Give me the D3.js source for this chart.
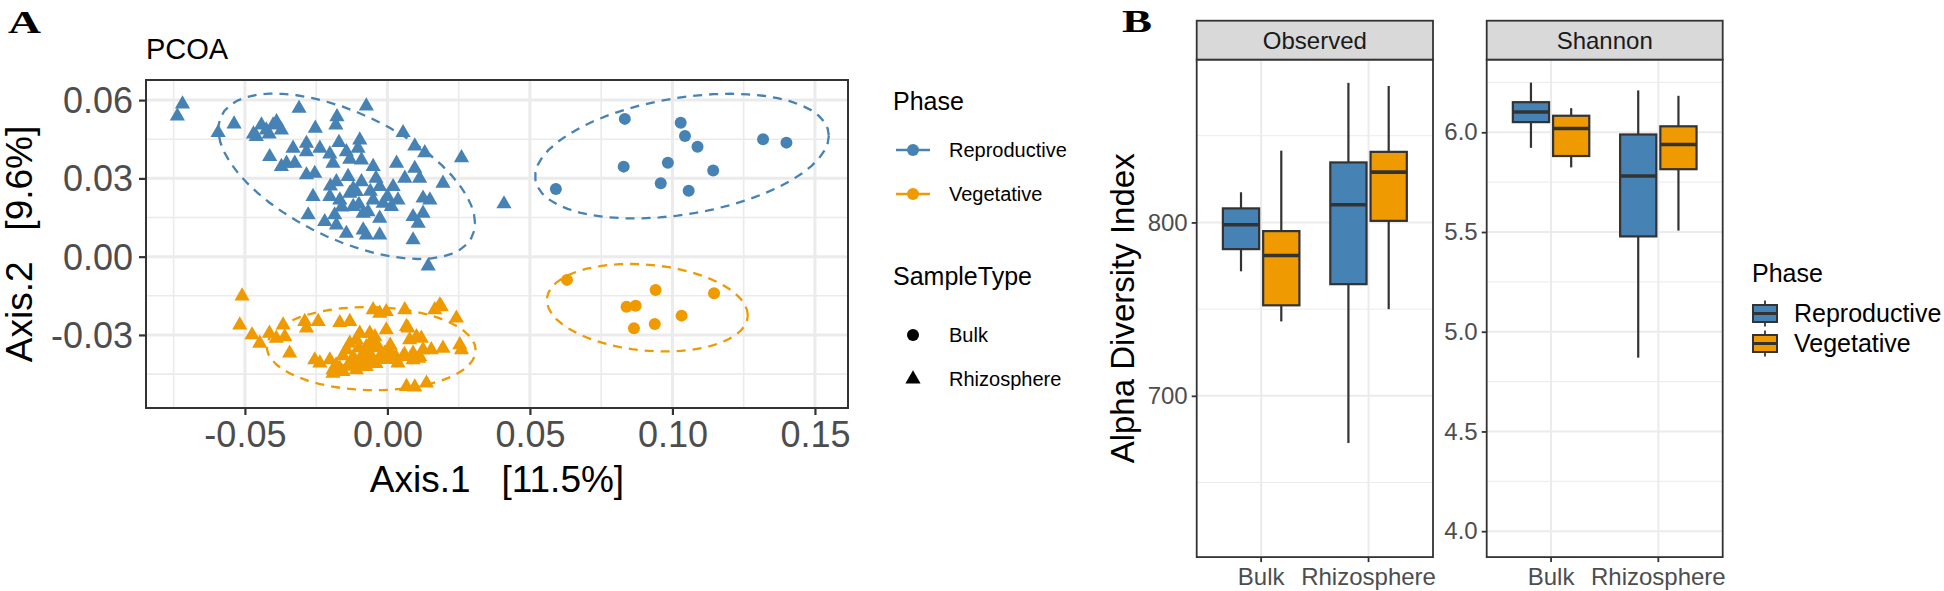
<!DOCTYPE html>
<html><head><meta charset="utf-8">
<script src="https://cdn.jsdelivr.net/npm/d3@7"></script>
<style>
body{margin:0;background:#fff}
svg{display:block}
text{font-family:"Liberation Sans",Arial,sans-serif}
</style>
</head><body>
<svg id="c" width="1944" height="591"></svg>
<script>
// ---------------- DATA ----------------
const phases = ["Reproductive", "Vegetative"];
const sampleTypes = ["Bulk", "Rhizosphere"];
const phaseColors = ["#4682B4", "#EE9A00"];

const pcoaXTicks = [-0.05, 0.00, 0.05, 0.10, 0.15];
const pcoaYTicks = [0.06, 0.03, 0.00, -0.03];

// Reproductive, Rhizosphere (triangles)
const repRhizo = [
 [-0.0719,0.0585],[-0.0737,0.0539],[-0.0594,0.0475],[-0.0538,0.0508],[-0.0310,0.0568],[-0.0074,0.0577],[-0.0177,0.0536],[-0.0181,0.0504],
 [-0.0442,0.0504],[-0.0460,0.0460],[-0.0425,0.0485],[-0.0389,0.0517],[-0.0372,0.0485],[-0.0401,0.0504],[-0.0470,0.0470],[-0.0415,0.0470],
 [-0.0253,0.0492],[0.0055,0.0475],[0.0096,0.0424],[0.0131,0.0398],[0.0260,0.0379],[0.0195,0.0281],
 [-0.0413,0.0383],[-0.0331,0.0415],[-0.0354,0.0358],[-0.0372,0.0345],[-0.0325,0.0358],
 [-0.0284,0.0434],[-0.0284,0.0402],[-0.0237,0.0415],[-0.0202,0.0393],[-0.0191,0.0358],
 [-0.0170,0.0437],[-0.0144,0.0402],[-0.0097,0.0447],[-0.0103,0.0415],[-0.0132,0.0373],[-0.0091,0.0370],[-0.0050,0.0345],
 [-0.0284,0.0313],[-0.0255,0.0319],[-0.0179,0.0287],[-0.0138,0.0307],[-0.0091,0.0287],[-0.0027,0.0268],[0.0020,0.0268],[0.0032,0.0358],[0.0096,0.0338],[0.0061,0.0300],[0.0113,0.0300],
 [-0.0261,0.0230],[-0.0202,0.0230],[-0.0167,0.0217],[-0.0132,0.0243],[-0.0109,0.0249],[-0.0050,0.0217],[-0.0015,0.0204],[0.0037,0.0217],[0.0125,0.0224],[0.0149,0.0217],
 [-0.0278,0.0160],[-0.0220,0.0134],[-0.0185,0.0160],[-0.0179,0.0121],[-0.0120,0.0192],[-0.0085,0.0166],[-0.0068,0.0172],[-0.0027,0.0147],[0.0014,0.0192],[0.0090,0.0153],[0.0108,0.0128],[0.0125,0.0166],
 [-0.0144,0.0089],[-0.0085,0.0102],[-0.0074,0.0083],[-0.0027,0.0083],[0.0090,0.0064],
 [-0.0120,0.0260],[-0.0060,0.0250],[-0.0100,0.0200],[-0.0160,0.0190],[0.0000,0.0230],[-0.0040,0.0300],[-0.0200,0.0270],
 [0.0143,-0.0036],[0.0409,0.0202]
];
// Vegetative, Rhizosphere (triangles)
const vegRhizo = [
 [-0.0510,-0.0151],[-0.0518,-0.0262],[-0.0475,-0.0300],[-0.0448,-0.0332],[-0.0414,-0.0294],[-0.0390,-0.0313],[-0.0366,-0.0262],[-0.0360,-0.0307],[-0.0343,-0.0370],
 [-0.0290,-0.0249],[-0.0284,-0.0274],[-0.0243,-0.0249],[-0.0167,-0.0253],[-0.0132,-0.0249],
 [-0.0237,-0.0408],[-0.0202,-0.0396],[-0.0191,-0.0434],[-0.0167,-0.0428],[-0.0144,-0.0357],[-0.0120,-0.0408],[-0.0109,-0.0319],[-0.0085,-0.0370],[-0.0062,-0.0294],
 [-0.0050,-0.0204],[-0.0027,-0.0217],[-0.0004,-0.0211],[-0.0039,-0.0345],[-0.0015,-0.0383],[-0.0004,-0.0281],[0.0020,-0.0383],
 [0.0061,-0.0204],[0.0067,-0.0268],[0.0078,-0.0319],[0.0102,-0.0307],[0.0113,-0.0383],[0.0125,-0.0357],[0.0154,-0.0357],
 [0.0166,-0.0204],[0.0189,-0.0192],[0.0195,-0.0351],[0.0242,-0.0236],[0.0254,-0.0338],[0.0260,-0.0357],
 [0.0067,-0.0498],[0.0096,-0.0500],[0.0137,-0.0485],
 [-0.0191,-0.0447],[-0.0156,-0.0441],[-0.0109,-0.0434],[-0.0074,-0.0421],[-0.0050,-0.0396],[0.0037,-0.0408],[0.0090,-0.0396],
 [-0.0132,-0.0332],[-0.0074,-0.0345],[-0.0044,-0.0307],[-0.0097,-0.0294],[-0.0255,-0.0396],[0.0008,-0.0364],[0.0055,-0.0383],
 [0.0184,-0.0185],[0.0119,-0.0313],[0.0072,-0.0274],
 [-0.0156,-0.0380],[-0.0120,-0.0385],[-0.0090,-0.0390],[-0.0060,-0.0375],[-0.0030,-0.0390],[0.0000,-0.0395],[0.0030,-0.0385],[0.0060,-0.0375],[0.0090,-0.0370],[0.0110,-0.0390],
 [-0.0180,-0.0415],[-0.0140,-0.0420],[-0.0100,-0.0415],[-0.0070,-0.0400],[-0.0040,-0.0410],[-0.0010,-0.0370],[-0.0100,-0.0350],[-0.0060,-0.0330],[-0.0030,-0.0350],[0.0010,-0.0340]
];
// Reproductive, Bulk (circles)
const repBulk = [
 [0.0833,0.0528],[0.1029,0.0513],[0.1044,0.0462],[0.1088,0.0421],[0.1318,0.0450],[0.1400,0.0437],
 [0.0829,0.0345],[0.0984,0.0360],[0.1143,0.0330],[0.0959,0.0281],[0.1057,0.0253],[0.0591,0.0259]
];
// Vegetative, Bulk (circles)
const vegBulk = [
 [0.0630,-0.0089],[0.0941,-0.0128],[0.1146,-0.0140],[0.0839,-0.0192],[0.0871,-0.0188],[0.1032,-0.0226],[0.0938,-0.0258],[0.0865,-0.0274]
];

// Alpha diversity box statistics per sample type: [lower whisker, Q1, median, Q3, upper whisker]
const alphaMetrics = ["Observed", "Shannon"];
const observedReproductive = [[771.8,784.6,798.7,808.1,817.4],[672.8,764.4,810.2,834.6,880.5]];
const observedVegetative   = [[742.9,752.2,780.9,795.0,841.4],[750.0,800.9,829.0,840.7,878.7]];
const shannonReproductive  = [[5.922,6.051,6.102,6.151,6.249],[4.870,5.478,5.781,5.989,6.210]];
const shannonVegetative    = [[5.824,5.881,6.019,6.083,6.121],[5.507,5.815,5.939,6.030,6.183]];
const observedTicks = [700, 800];
const shannonTicks = [4.0, 4.5, 5.0, 5.5, 6.0];

// ---------------- HELPERS ----------------
const svg = d3.select("#c");
const GRID = "#EBEBEB", BORDER = "#333333", TICKTXT = "#4D4D4D";

function minorOf(ticks, domain) {
  const t = ticks.slice().sort((a,b)=>a-b);
  const step = t[1]-t[0];
  const out = [];
  const lo = Math.min(...domain), hi = Math.max(...domain);
  for (let v = t[0]-step/2; v <= t[t.length-1]+step/2 + 1e-9; v += step) {
    if (v >= lo && v <= hi) out.push(v);
  }
  return out;
}

// MASS::cov.trob (nu = 5) as used by ggplot2::stat_ellipse(type = "t")
function covTrob(pts) {
  const n = pts.length, p = 2, nu = 5;
  let loc = [d3.mean(pts, d=>d[0]), d3.mean(pts, d=>d[1])];
  let w = pts.map(()=>1), X;
  for (let it = 0; it < 25; it++) {
    const w0 = w.slice();
    X = pts.map(d=>[d[0]-loc[0], d[1]-loc[1]]);
    const sw = d3.sum(w);
    let a=0,b=0,c=0;
    X.forEach((v,i)=>{a+=w[i]*v[0]*v[0]; b+=w[i]*v[0]*v[1]; c+=w[i]*v[1]*v[1];});
    a/=sw; b/=sw; c/=sw;
    const det = a*c-b*b;
    const Q = X.map(v => (c*v[0]*v[0] - 2*b*v[0]*v[1] + a*v[1]*v[1]) / det);
    w = Q.map(q => (nu+p)/(nu+q));
    const sw2 = d3.sum(w);
    loc = [d3.sum(pts,(d,i)=>w[i]*d[0])/sw2, d3.sum(pts,(d,i)=>w[i]*d[1])/sw2];
    if (w.every((v,i)=>Math.abs(v-w0[i]) < 0.01)) break;
  }
  let a=0,b=0,c=0;
  X.forEach((v,i)=>{a+=w[i]*v[0]*v[0]; b+=w[i]*v[0]*v[1]; c+=w[i]*v[1]*v[1];});
  return {center: loc, cov: [a/n, b/n, c/n]};
}
function ellipsePoints(pts, level) {
  const {center, cov} = covTrob(pts);
  const dfd = pts.length - 1;
  const qf = dfd/2 * (Math.pow(1-level, -2/dfd) - 1);
  const r = Math.sqrt(2*qf);
  const [a,b,c] = cov;
  const R11 = Math.sqrt(a), R12 = b/Math.sqrt(a), R22 = Math.sqrt(c - b*b/a);
  const seg = 51, out = [];
  for (let i = 0; i <= seg; i++) {
    const t = i*2*Math.PI/seg, co = Math.cos(t), si = Math.sin(t);
    out.push([center[0] + r*co*R11, center[1] + r*(co*R12 + si*R22)]);
  }
  return out;
}

// ---------------- PANEL A: PCoA ----------------
const A = {l:146, r:848, t:80, b:408};
const xA = d3.scaleLinear().domain([-0.0847, 0.1616]).range([A.l, A.r]);
const yA = d3.scaleLinear().domain([-0.058, 0.0677]).range([A.b, A.t]);

svg.append("text").attr("x", 8).attr("y", 33)
   .style("font-family","'Liberation Serif','Times New Roman',serif")
   .attr("font-weight","bold").attr("font-size", 32).attr("textLength", 33).attr("lengthAdjust","spacingAndGlyphs").text("A");
svg.append("text").attr("x", A.l).attr("y", 59).attr("font-size", 29).attr("fill","#000").text("PCOA");

const gA = svg.append("g");
gA.append("rect").attr("x",A.l).attr("y",A.t).attr("width",A.r-A.l).attr("height",A.b-A.t).attr("fill","#fff");
const clip = svg.append("defs").append("clipPath").attr("id","clipA");
clip.append("rect").attr("x",A.l).attr("y",A.t).attr("width",A.r-A.l).attr("height",A.b-A.t);

gA.selectAll(".vmin").data(minorOf(pcoaXTicks, xA.domain())).join("line")
  .attr("x1",d=>xA(d)).attr("x2",d=>xA(d)).attr("y1",A.t).attr("y2",A.b).attr("stroke",GRID).attr("stroke-width",1.6);
gA.selectAll(".hmin").data(minorOf(pcoaYTicks, yA.domain())).join("line")
  .attr("y1",d=>yA(d)).attr("y2",d=>yA(d)).attr("x1",A.l).attr("x2",A.r).attr("stroke",GRID).attr("stroke-width",1.6);
gA.selectAll(".vmaj").data(pcoaXTicks).join("line")
  .attr("x1",d=>xA(d)).attr("x2",d=>xA(d)).attr("y1",A.t).attr("y2",A.b).attr("stroke",GRID).attr("stroke-width",3);
gA.selectAll(".hmaj").data(pcoaYTicks).join("line")
  .attr("y1",d=>yA(d)).attr("y2",d=>yA(d)).attr("x1",A.l).attr("x2",A.r).attr("stroke",GRID).attr("stroke-width",3);

const groups = [
  {pts: repRhizo, phase: 0, shape: "tri"},
  {pts: vegRhizo, phase: 1, shape: "tri"},
  {pts: repBulk, phase: 0, shape: "circ"},
  {pts: vegBulk, phase: 1, shape: "circ"}
];
const lineA = d3.line().x(d=>xA(d[0])).y(d=>yA(d[1]));
const plotA = gA.append("g").attr("clip-path","url(#clipA)");
groups.forEach(g => {
  plotA.append("path").attr("d", lineA(ellipsePoints(g.pts, 0.95)))
    .attr("fill","none").attr("stroke", phaseColors[g.phase]).attr("stroke-width", 2.3)
    .attr("stroke-dasharray","9,7");
});
const triSym = d3.symbol(d3.symbolTriangle, 100);
groups.forEach(g => {
  if (g.shape === "tri") {
    plotA.selectAll(null).data(g.pts).join("path")
      .attr("transform", d=>`translate(${xA(d[0])},${yA(d[1])})`)
      .attr("d", triSym()).attr("fill", phaseColors[g.phase]);
  } else {
    plotA.selectAll(null).data(g.pts).join("circle")
      .attr("cx", d=>xA(d[0])).attr("cy", d=>yA(d[1])).attr("r", 6).attr("fill", phaseColors[g.phase]);
  }
});
gA.append("rect").attr("x",A.l).attr("y",A.t).attr("width",A.r-A.l).attr("height",A.b-A.t)
  .attr("fill","none").attr("stroke",BORDER).attr("stroke-width",2);

const axA_x = svg.append("g").attr("transform",`translate(0,${A.b})`)
  .call(d3.axisBottom(xA).tickValues(pcoaXTicks).tickFormat(d=>d.toFixed(2)).tickSize(7).tickPadding(6));
const axA_y = svg.append("g").attr("transform",`translate(${A.l},0)`)
  .call(d3.axisLeft(yA).tickValues(pcoaYTicks).tickFormat(d=>d.toFixed(2)).tickSize(7).tickPadding(6));
[axA_x, axA_y].forEach(ax => {
  ax.select(".domain").remove();
  ax.selectAll(".tick line").attr("stroke", BORDER).attr("stroke-width", 2.2);
  ax.selectAll(".tick text").attr("fill", TICKTXT).attr("font-size", 36)
    .style("font-family","'Liberation Sans',Arial,sans-serif");
});
axA_y.selectAll(".tick text").attr("dy","0.35em");

svg.append("text").attr("x",(A.l+A.r)/2).attr("y",492).attr("text-anchor","middle")
  .attr("font-size",37).attr("fill","#000").style("white-space","pre").text("Axis.1   [11.5%]");
svg.append("text").attr("transform",`translate(32,${(A.t+A.b)/2}) rotate(-90)`).attr("text-anchor","middle")
  .attr("font-size",37).attr("fill","#000").style("white-space","pre").text("Axis.2   [9.6%]");

// Legend A
const LA = svg.append("g");
LA.append("text").attr("x",893).attr("y",110).attr("font-size",25).text("Phase");
phases.forEach((p,i) => {
  const cy = 150 + i*44;
  LA.append("line").attr("x1",896).attr("x2",930).attr("y1",cy).attr("y2",cy)
    .attr("stroke",phaseColors[i]).attr("stroke-width",2.5);
  LA.append("circle").attr("cx",913).attr("cy",cy).attr("r",6).attr("fill",phaseColors[i]);
  LA.append("text").attr("x",949).attr("y",cy+7).attr("font-size",20).text(p);
});
LA.append("text").attr("x",893).attr("y",285).attr("font-size",25).text("SampleType");
sampleTypes.forEach((s,i) => {
  const cy = 335 + i*44;
  if (i === 0) LA.append("circle").attr("cx",913).attr("cy",cy).attr("r",6).attr("fill","#000");
  else LA.append("path").attr("transform",`translate(913,${cy})`).attr("d",triSym()).attr("fill","#000");
  LA.append("text").attr("x",949).attr("y",cy+7).attr("font-size",20).text(s);
});

// ---------------- PANEL B: Alpha diversity ----------------
svg.append("text").attr("x", 1122).attr("y", 32)
   .style("font-family","'Liberation Serif','Times New Roman',serif")
   .attr("font-weight","bold").attr("font-size", 31).attr("textLength", 30).attr("lengthAdjust","spacingAndGlyphs").text("B");

const B = {t:59.6, b:557.1, stripT:20.7};
function drawFacet(left, right, domain, ticks, fmt, repStats, vegStats, title) {
  const y = d3.scaleLinear().domain(domain).range([B.b, B.t]);
  const u = (right-left)/2.2;
  const xc = s => left + (0.6 + sampleTypes.indexOf(s))*u;
  const g = svg.append("g");
  g.append("rect").attr("x",left).attr("y",B.t).attr("width",right-left).attr("height",B.b-B.t).attr("fill","#fff");
  g.selectAll(null).data(minorOf(ticks, domain)).join("line")
    .attr("x1",left).attr("x2",right).attr("y1",d=>y(d)).attr("y2",d=>y(d)).attr("stroke",GRID).attr("stroke-width",1);
  g.selectAll(null).data(ticks).join("line")
    .attr("x1",left).attr("x2",right).attr("y1",d=>y(d)).attr("y2",d=>y(d)).attr("stroke",GRID).attr("stroke-width",2);
  g.selectAll(null).data(sampleTypes).join("line")
    .attr("x1",d=>xc(d)).attr("x2",d=>xc(d)).attr("y1",B.t).attr("y2",B.b).attr("stroke",GRID).attr("stroke-width",2);

  [repStats, vegStats].forEach((stats, j) => {
    stats.forEach((s, i) => {
      const cx = xc(sampleTypes[i]) + (j===0 ? -1 : 1)*0.1875*u;
      const hw = 0.3375*u/2;
      const [lo,q1,md,q3,hi] = s;
      g.append("line").attr("x1",cx).attr("x2",cx).attr("y1",y(hi)).attr("y2",y(q3)).attr("stroke",BORDER).attr("stroke-width",2.2);
      g.append("line").attr("x1",cx).attr("x2",cx).attr("y1",y(q1)).attr("y2",y(lo)).attr("stroke",BORDER).attr("stroke-width",2.2);
      g.append("rect").attr("x",cx-hw).attr("y",y(q3)).attr("width",2*hw).attr("height",y(q1)-y(q3))
        .attr("fill",phaseColors[j]).attr("stroke",BORDER).attr("stroke-width",2.2);
      g.append("line").attr("x1",cx-hw).attr("x2",cx+hw).attr("y1",y(md)).attr("y2",y(md)).attr("stroke",BORDER).attr("stroke-width",3.6);
    });
  });
  g.append("rect").attr("x",left).attr("y",B.t).attr("width",right-left).attr("height",B.b-B.t)
    .attr("fill","none").attr("stroke",BORDER).attr("stroke-width",1.8);
  g.append("rect").attr("x",left).attr("y",B.stripT).attr("width",right-left).attr("height",B.t-B.stripT)
    .attr("fill","#D9D9D9").attr("stroke",BORDER).attr("stroke-width",1.8);
  g.append("text").attr("x",(left+right)/2).attr("y",(B.stripT+B.t)/2).attr("dy","0.35em").attr("text-anchor","middle")
    .attr("font-size",24).attr("fill","#1A1A1A").text(title);
  const ay = svg.append("g").attr("transform",`translate(${left},0)`)
    .call(d3.axisLeft(y).tickValues(ticks).tickFormat(fmt).tickSize(5).tickPadding(4));
  const ax = svg.append("g").attr("transform",`translate(0,${B.b})`);
  sampleTypes.forEach(s => {
    ax.append("line").attr("x1",xc(s)).attr("x2",xc(s)).attr("y1",0).attr("y2",5).attr("stroke",BORDER).attr("stroke-width",1.8);
    ax.append("text").attr("x",xc(s)).attr("y",28).attr("text-anchor","middle").attr("font-size",24).attr("fill",TICKTXT).text(s);
  });
  ay.select(".domain").remove();
  ay.selectAll(".tick line").attr("stroke",BORDER).attr("stroke-width",1.8);
  ay.selectAll(".tick text").attr("fill",TICKTXT).attr("font-size",24).style("font-family","'Liberation Sans',Arial,sans-serif");
}
drawFacet(1196.7, 1433, [607, 893.9], observedTicks, d=>d3.format("d")(d), observedReproductive, observedVegetative, alphaMetrics[0]);
drawFacet(1486.7, 1722.7, [3.87, 6.3645], shannonTicks, d=>d.toFixed(1), shannonReproductive, shannonVegetative, alphaMetrics[1]);

svg.append("text").attr("transform",`translate(1134,${(B.t+B.b)/2}) rotate(-90)`).attr("text-anchor","middle")
  .attr("font-size",33).attr("fill","#000").text("Alpha Diversity Index");

// Legend B
const LB = svg.append("g");
LB.append("text").attr("x",1752).attr("y",282).attr("font-size",25).text("Phase");
phases.forEach((p,i) => {
  const cy = 313.5 + i*30;
  LB.append("line").attr("x1",1765).attr("x2",1765).attr("y1",cy-13).attr("y2",cy+13).attr("stroke",BORDER).attr("stroke-width",1.8);
  LB.append("rect").attr("x",1753).attr("y",cy-8.5).attr("width",24).attr("height",17)
    .attr("fill",phaseColors[i]).attr("stroke",BORDER).attr("stroke-width",2);
  LB.append("line").attr("x1",1753).attr("x2",1777).attr("y1",cy).attr("y2",cy).attr("stroke",BORDER).attr("stroke-width",3);
  LB.append("text").attr("x",1794).attr("y",cy+8.5).attr("font-size",25).text(p);
});
</script>
</body></html>
